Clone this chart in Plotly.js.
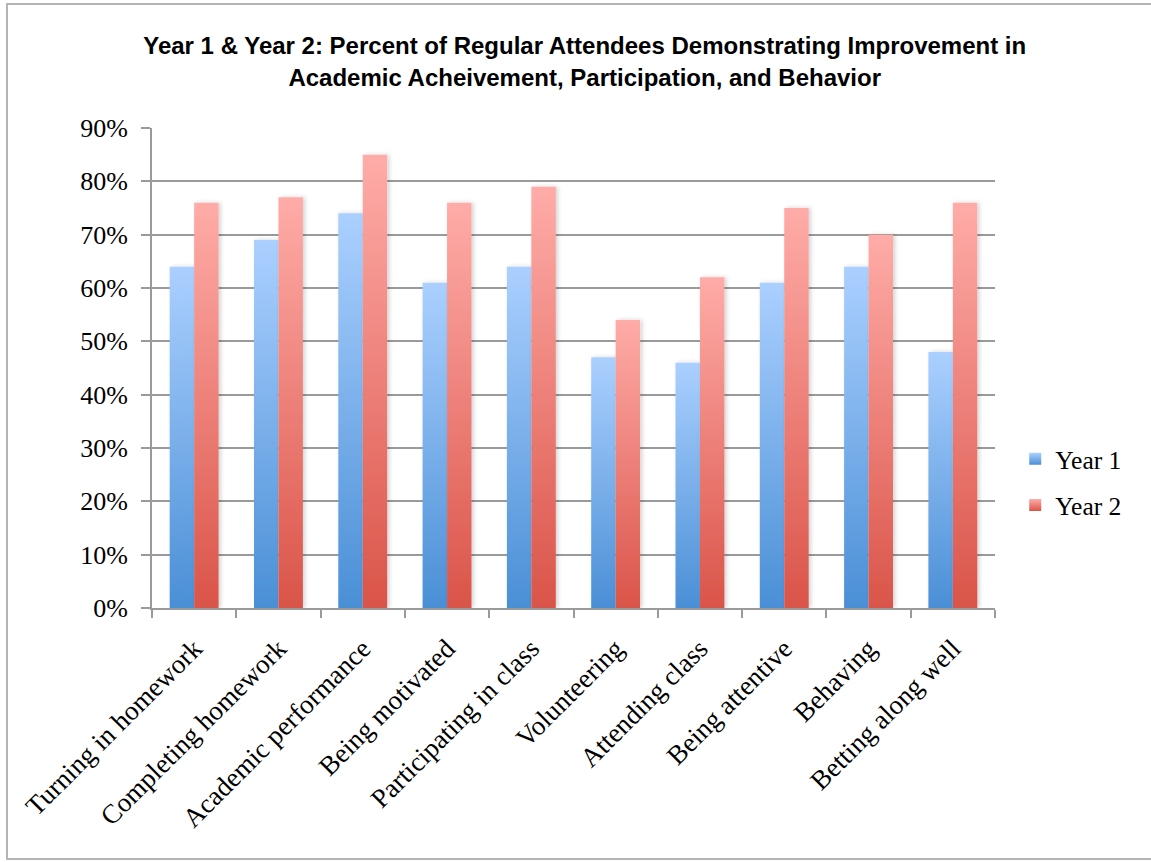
<!DOCTYPE html>
<html>
<head>
<meta charset="utf-8">
<script src="https://cdn.plot.ly/plotly-3.0.1.min.js"></script>
<style>
  html, body { margin: 0; padding: 0; background: #ffffff; }
  #frame { position: absolute; left: 6px; top: 3px; width: 1150px; height: 857px;
           border: 2px solid #b4b4b4; box-sizing: border-box; }
  #chart { position: absolute; left: 0; top: 0; width: 1151px; height: 862px; }
</style>
</head>
<body>
<div id="chart"></div>
<div id="frame"></div>
<script>
// Outcome categories along the x axis
const categories = [
  "Turning in homework",
  "Completing homework",
  "Academic performance",
  "Being motivated",
  "Participating in class",
  "Volunteering",
  "Attending class",
  "Being attentive",
  "Behaving",
  "Betting along well"
];

// Percent of regular attendees showing improvement (fractions)
const year1 = [0.64, 0.69, 0.74, 0.61, 0.64, 0.47, 0.46, 0.61, 0.64, 0.48];
const year2 = [0.76, 0.77, 0.85, 0.76, 0.79, 0.54, 0.62, 0.75, 0.70, 0.76];

const seriesNames = ["Year 1", "Year 2"];

const yTicks = [0, 0.1, 0.2, 0.3, 0.4, 0.5, 0.6, 0.7, 0.8, 0.9];
const yTickText = ["0%", "10%", "20%", "30%", "40%", "50%", "60%", "70%", "80%", "90%"];

const serif = "Liberation Serif, Times New Roman, serif";

const traces = [
  { type: "bar", name: seriesNames[0], legendgroup: "g1", x: categories, y: year1,
    marker: { color: "#7aaee9", line: { width: 0 } }, hoverinfo: "x+y+name" },
  { type: "bar", name: seriesNames[1], legendgroup: "g2", x: categories, y: year2,
    marker: { color: "#ec7f78", line: { width: 0 } }, hoverinfo: "x+y+name" }
];

const layout = {
  width: 1151, height: 862,
  paper_bgcolor: "rgba(0,0,0,0)", plot_bgcolor: "rgba(0,0,0,0)",
  margin: { l: 152, r: 156, t: 128, b: 254, pad: 0 },
  barmode: "group", bargap: 0.42, bargroupgap: 0,
  title: {
    text: "Year 1 & Year 2: Percent of Regular Attendees Demonstrating Improvement in<br>Academic Acheivement, Participation, and Behavior",
    font: { family: "Liberation Sans, Arial, sans-serif", size: 24, color: "#000000", weight: "bold" },
    x: 0.508, xanchor: "center", y: 0.937, yanchor: "top"
  },
  xaxis: {
    type: "category", tickangle: -45, tickson: "boundaries",
    ticks: "outside", ticklen: 8, tickwidth: 2, tickcolor: "#9a9a9a",
    ticklabelstandoff: 12,
    showline: true, linecolor: "#9a9a9a", linewidth: 2,
    showgrid: false, zeroline: false,
    tickfont: { family: serif, size: 27, color: "#000000" }
  },
  yaxis: {
    range: [0, 0.9], tickvals: yTicks, ticktext: yTickText,
    ticks: "outside", ticklen: 9, tickwidth: 2, tickcolor: "#9a9a9a",
    ticklabelstandoff: 8,
    showline: true, linecolor: "#9a9a9a", linewidth: 2,
    showgrid: true, gridcolor: "#9a9a9a", gridwidth: 2, zeroline: false,
    tickfont: { family: serif, size: 26, color: "#000000" }
  },
  legend: {
    x: 1.024, xanchor: "left", y: 0.262, yanchor: "middle",
    font: { family: serif, size: 25.5, color: "#000000" },
    traceorder: "grouped", itemsizing: "constant", tracegroupgap: 10
  },
  showlegend: true
};

// Vertical gradients for each series (top colour, bottom colour)
const gradients = [
  { id: "gradYear1", top: "#abd0ff", bottom: "#4a8fd6" },
  { id: "gradYear2", top: "#ffaca8", bottom: "#da5449" }
];

function applyGradients(gd) {
  const svg = gd.querySelector("svg.main-svg");
  if (!svg) return;
  const ns = "http://www.w3.org/2000/svg";
  let defs = svg.querySelector("defs#barGradDefs");
  if (!defs) {
    defs = document.createElementNS(ns, "defs");
    defs.setAttribute("id", "barGradDefs");
    gradients.forEach(g => {
      const lg = document.createElementNS(ns, "linearGradient");
      lg.setAttribute("id", g.id);
      lg.setAttribute("x1", "0"); lg.setAttribute("y1", "0");
      lg.setAttribute("x2", "0"); lg.setAttribute("y2", "1");
      [[0, g.top], [1, g.bottom]].forEach(([o, c]) => {
        const s = document.createElementNS(ns, "stop");
        s.setAttribute("offset", o);
        s.setAttribute("stop-color", c);
        lg.appendChild(s);
      });
      defs.appendChild(lg);
    });
    const f = document.createElementNS(ns, "filter");
    f.setAttribute("id", "barShadow");
    f.setAttribute("x", "-20%"); f.setAttribute("y", "-5%");
    f.setAttribute("width", "150%"); f.setAttribute("height", "110%");
    const ds = document.createElementNS(ns, "feDropShadow");
    ds.setAttribute("dx", "2"); ds.setAttribute("dy", "0");
    ds.setAttribute("stdDeviation", "2");
    ds.setAttribute("flood-color", "#000000");
    ds.setAttribute("flood-opacity", "0.18");
    f.appendChild(ds);
    defs.appendChild(f);
    svg.insertBefore(defs, svg.firstChild);
  }
  gd.querySelectorAll(".barlayer .trace.bars").forEach((tr, i) => {
    tr.querySelectorAll(".point path").forEach(p => {
      p.style.fill = "url(#" + gradients[i].id + ")";
      p.style.filter = "url(#barShadow)";
    });
  });
  gd.querySelectorAll(".legend .traces").forEach((tr, i) => {
    tr.querySelectorAll(".legendpoints path").forEach(p => {
      p.style.fill = "url(#" + gradients[i].id + ")";
    });
  });
}

const gd = document.getElementById("chart");
Plotly.newPlot(gd, traces, layout, { displayModeBar: false, staticPlot: true }).then(() => {
  applyGradients(gd);
  gd.on("plotly_afterplot", () => applyGradients(gd));
});
</script>
</body>
</html>
